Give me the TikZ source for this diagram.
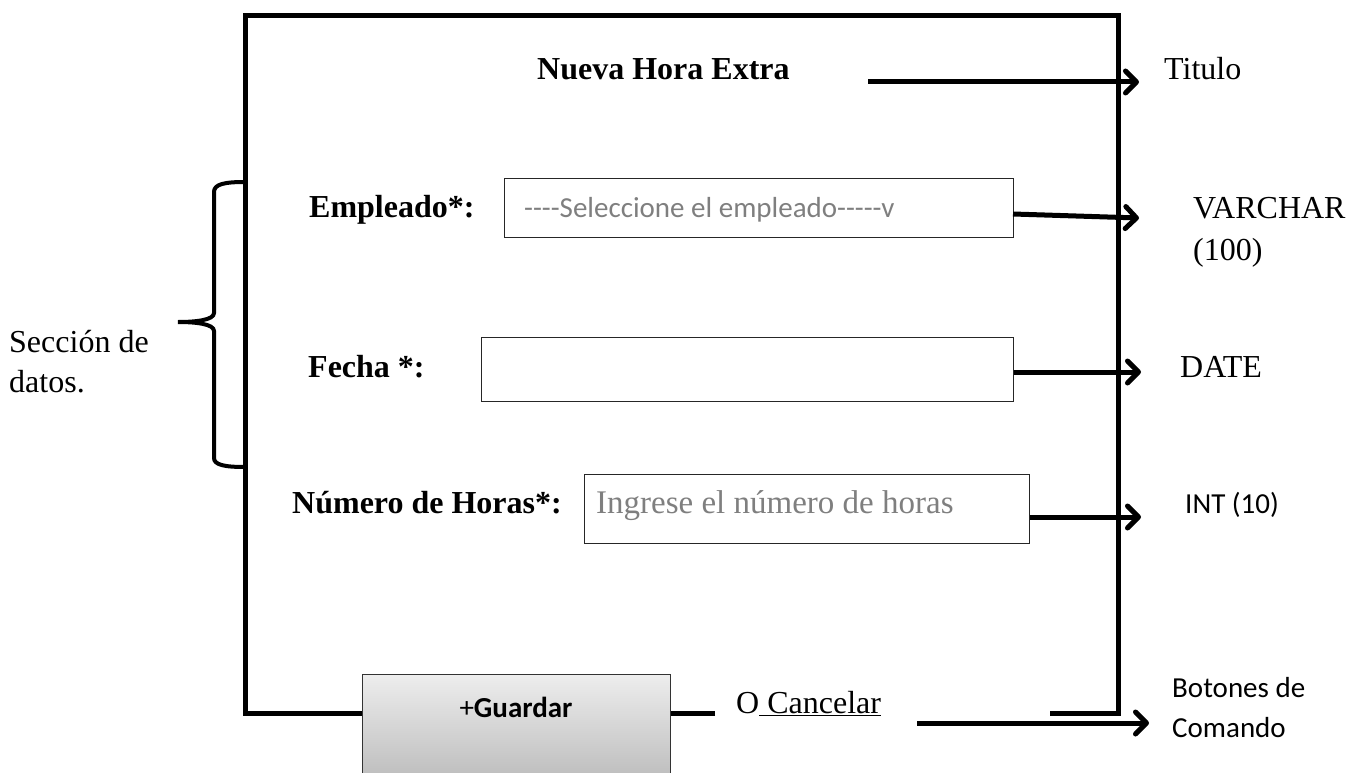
\documentclass[tikz,border=0pt]{standalone}
\usepackage{fontspec}
\setmainfont{Liberation Serif}
\newfontfamily\calibri{Carlito}
\usetikzlibrary{arrows.meta}
\definecolor{phgrey}{HTML}{7F7F7F}
\begin{document}
\begin{tikzpicture}[x=1pt,y=-1pt,
  frame/.style={line width=5pt,line join=miter},
  arr/.style={line width=5pt,-{Straight Barb[length=11pt,width=22pt,round]}},
  field/.style={draw=black!85,line width=1.3pt,anchor=north west,inner sep=0pt},
  lbl/.style={anchor=base west,inner sep=0pt,font=\fontsize{32}{38}\selectfont},
  blbl/.style={anchor=base west,inner sep=0pt,font=\bfseries\fontsize{32}{38}\selectfont},
  slbl/.style={anchor=base west,inner sep=0pt,font=\calibri\fontsize{29}{35}\selectfont},
  ph/.style={anchor=base west,inner sep=0pt,text=phgrey},
  btn/.style={draw=black!80,line width=1.3pt,anchor=north west,inner sep=0pt,
     top color=black!7,bottom color=black!25}]
\useasboundingbox (0,0) rectangle (1365,773);

% frame
\draw[frame] (715,713) -- (245,713) |- (1118,16) -- (1118,713) -- (1050,713);

% brace
\draw[line width=4pt,line cap=round]
  (245,182) .. controls (225,182) and (214,184) .. (214,192) -- (214,313)
  .. controls (214,320) and (196,322) .. (178,322)
  .. controls (196,322) and (214,324) .. (214,331) -- (214,458)
  .. controls (214,465) and (225,467) .. (245,467);
\node[lbl] (sec1) at (9,352) {Sección de};
\node[lbl] (sec2) at (9,392) {datos.};

% title
\node[blbl] (title) at (537,80) {Nueva Hora Extra};
\coordinate (titlestart) at (868,82);
\coordinate (titletip) at (1139,82);
\node[lbl] (titulo) at (1164,80) {Titulo};
\draw[arr] (titlestart) -- (titletip);

% empleado
\node[blbl] (emplbl) at (309,217) {Empleado*:};
\node[field,minimum width=509pt,minimum height=59pt] (empbox) at (504,178) {};
\node[ph,font=\calibri\fontsize{29}{35}\selectfont] (empph) at (524,217) {----Seleccione el empleado-----v};
\coordinate (empstart) at (1013,214);
\coordinate (emptip) at (1139,218);
\draw[arr] (empstart) -- (emptip);
\node[lbl] (var1) at (1193,218) {VARCHAR};
\node[lbl] (var2) at (1193,260) {(100)};

% fecha
\node[blbl] (feclbl) at (308,377) {Fecha *:};
\node[field,minimum width=532pt,minimum height=64pt] (fecbox) at (481,337) {};
\coordinate (fectip) at (1141,372);
\draw[arr] (fecbox.east |- fectip) -- (fectip);
\node[lbl] (date) at (1180,377) {DATE};

% numero de horas
\node[blbl] (numlbl) at (292,513) {Número de Horas*:};
\node[field,minimum width=445pt,minimum height=69pt] (numbox) at (584,474) {};
\node[ph,font=\fontsize{33}{39}\selectfont] (numph) at (596,513) {Ingrese el número de horas};
\coordinate (numtip) at (1141,517);
\draw[arr] (numbox.east |- numtip) -- (numtip);
\node[slbl] (int) at (1185,513) {INT (10)};

% buttons
\node[btn,minimum width=308pt,minimum height=100pt] (guardar) at (362,674) {};
\node[anchor=base,inner sep=0pt,font=\calibri\fontsize{29}{35}\selectfont] (guardartxt) at (516,717) {+\textbf{Guardar}};
\node[lbl] (cancel) at (736,713) {O\underline{ Cancelar}};
\coordinate (cancelstart) at (917,723);
\coordinate (canceltip) at (1149,723);
\draw[arr] (cancelstart) -- (canceltip);
\node[slbl] (bot1) at (1172,697) {Botones de};
\node[slbl] (bot2) at (1172,737) {Comando};
\end{tikzpicture}
\end{document}
